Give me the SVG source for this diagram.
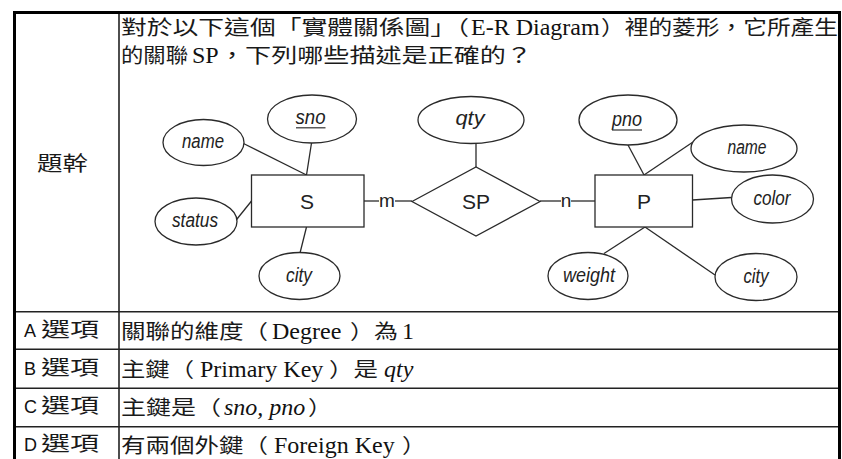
<svg xmlns="http://www.w3.org/2000/svg" width="842" height="459" viewBox="0 0 842 459">
<style>
.border{fill:none;stroke:#000;stroke-width:3}
.grid{fill:none;stroke:#222;stroke-width:1.6}
.cjk{font-family:"Noto Sans CJK TC","Noto Sans CJK SC",sans-serif;font-size:20px;fill:#1a1a1a}
.lat{font-family:"Liberation Serif","Times New Roman",serif;font-size:24px;fill:#111}
.it{font-style:italic}
.lbl{font-family:"Liberation Sans",Arial,sans-serif;font-size:18px;fill:#111}
.ent{fill:#fff;stroke:#2a2a2a;stroke-width:1.3}
.conn line{stroke:#2a2a2a;stroke-width:1.3}
.ul{stroke:#333;stroke-width:1.2}
.et{font-family:"Liberation Sans",Arial,sans-serif;font-size:21px;fill:#222;text-anchor:middle}
.at{font-family:"Liberation Sans",Arial,sans-serif;font-size:20px;font-style:italic;fill:#222;text-anchor:middle}
.card{font-family:"Liberation Sans",Arial,sans-serif;font-size:19px;fill:#222;text-anchor:middle}
</style>
<rect x="0" y="0" width="842" height="459" fill="#fff"/>

<g id="table">
<path class="grid" d="M119,12V459M14,311.7H840M14,349.3H840M14,388.3H840M14,426.7H840"/>
<path class="border" d="M14.5,459V12.5H839.5V459"/>
</g>

<g id="stem-label"><text class="cjk" x="37" y="170.5" textLength="51" lengthAdjust="spacingAndGlyphs" font-size="22">題幹</text></g>

<g id="stem">
<text class="cjk" x="121" y="35" textLength="348" lengthAdjust="spacingAndGlyphs">對於以下這個「實體關係圖」（</text>
<text class="lat" x="471" y="35">E-R Diagram</text>
<text class="cjk" x="601" y="35" textLength="237" lengthAdjust="spacingAndGlyphs">）裡的菱形，它所產生</text>
<text class="cjk" x="121" y="63" textLength="67" lengthAdjust="spacingAndGlyphs">的關聯</text>
<text class="lat" x="192" y="63">SP</text>
<text class="cjk" x="219" y="63" textLength="313" lengthAdjust="spacingAndGlyphs">，下列哪些描述是正確的？</text>
</g>

<g id="connectors" class="conn">
<line x1="243.5" y1="143.5" x2="306.5" y2="175"/>
<line x1="311.5" y1="143" x2="306.5" y2="175"/>
<line x1="235" y1="221.5" x2="251.5" y2="201"/>
<line x1="300" y1="253" x2="306.5" y2="227"/>
<line x1="364" y1="201" x2="379" y2="201"/>
<line x1="395" y1="201" x2="412" y2="201"/>
<line x1="476" y1="143.5" x2="476" y2="167"/>
<line x1="540" y1="201" x2="561" y2="201"/>
<line x1="571" y1="201" x2="595" y2="201"/>
<line x1="628" y1="145" x2="644" y2="175"/>
<line x1="693" y1="142" x2="644" y2="175"/>
<line x1="692.5" y1="200" x2="731.5" y2="197.5"/>
<line x1="645" y1="227" x2="604" y2="253.5"/>
<line x1="645" y1="227" x2="715" y2="275"/>
<text class="card" x="387" y="206.5">m</text>
<text class="card" x="566" y="206.5">n</text>
</g>

<g id="S"><rect class="ent" x="251.5" y="175" width="112.5" height="52"/><text class="et" x="307" y="208.5">S</text></g>
<g id="SP"><polygon class="ent" points="412,201.5 476,167 540,201.5 476,236"/><text class="et" x="476" y="208.5">SP</text></g>
<g id="P"><rect class="ent" x="595" y="175" width="97.5" height="52"/><text class="et" x="644" y="208.5">P</text></g>

<g id="S-name"><ellipse class="ent" cx="203.5" cy="142.5" rx="40.5" ry="23"/><text class="at" x="203" y="148" textLength="42" lengthAdjust="spacingAndGlyphs">name</text></g>
<g id="S-sno"><ellipse class="ent" cx="312" cy="119" rx="44.5" ry="24"/><text class="at" x="310.5" y="124" textLength="30" lengthAdjust="spacingAndGlyphs">sno</text><line class="ul" x1="296" y1="127.8" x2="325.5" y2="127.8"/></g>
<g id="S-status"><ellipse class="ent" cx="196" cy="221.5" rx="41" ry="23.5"/><text class="at" x="195" y="227" textLength="46" lengthAdjust="spacingAndGlyphs">status</text></g>
<g id="S-city"><ellipse class="ent" cx="299.5" cy="276" rx="40.5" ry="23.5"/><text class="at" x="299" y="281.5" textLength="26" lengthAdjust="spacingAndGlyphs">city</text></g>
<g id="SP-qty"><ellipse class="ent" cx="471" cy="120" rx="53" ry="23.5"/><text class="at" x="470" y="125" textLength="29" lengthAdjust="spacingAndGlyphs">qty</text></g>
<g id="P-pno"><ellipse class="ent" cx="628" cy="120" rx="49" ry="25"/><text class="at" x="627" y="125.5" textLength="30" lengthAdjust="spacingAndGlyphs">pno</text><line class="ul" x1="612" y1="130" x2="642" y2="130"/></g>
<g id="P-name"><ellipse class="ent" cx="744" cy="148.5" rx="53" ry="23.5"/><text class="at" x="747" y="154" textLength="39" lengthAdjust="spacingAndGlyphs">name</text></g>
<g id="P-color"><ellipse class="ent" cx="772.5" cy="199" rx="41" ry="24"/><text class="at" x="772" y="204.5" textLength="37" lengthAdjust="spacingAndGlyphs">color</text></g>
<g id="P-weight"><ellipse class="ent" cx="588" cy="276" rx="40" ry="23.5"/><text class="at" x="589" y="281.5" textLength="52" lengthAdjust="spacingAndGlyphs">weight</text></g>
<g id="P-city"><ellipse class="ent" cx="756" cy="277" rx="41" ry="23.5"/><text class="at" x="756" y="282.5" textLength="25" lengthAdjust="spacingAndGlyphs">city</text></g>

<g id="optA">
<text class="lbl" x="24" y="337">A</text><text class="cjk" x="41" y="337" textLength="58" lengthAdjust="spacingAndGlyphs">選項</text>
<text class="cjk" x="121" y="339" textLength="147" lengthAdjust="spacingAndGlyphs">關聯的維度（</text>
<text class="lat" x="272" y="339">Degree</text>
<text class="cjk" x="350" y="339" textLength="48" lengthAdjust="spacingAndGlyphs">）為</text>
<text class="lat" x="402" y="339">1</text>
</g>
<g id="optB">
<text class="lbl" x="24" y="375">B</text><text class="cjk" x="41" y="375" textLength="58" lengthAdjust="spacingAndGlyphs">選項</text>
<text class="cjk" x="121" y="376.5" textLength="73" lengthAdjust="spacingAndGlyphs">主鍵（</text>
<text class="lat" x="200" y="376.5">Primary Key</text>
<text class="cjk" x="329" y="376.5" textLength="49" lengthAdjust="spacingAndGlyphs">）是</text>
<text class="lat it" x="384" y="376.5">qty</text>
</g>
<g id="optC">
<text class="lbl" x="24" y="413">C</text><text class="cjk" x="41" y="413" textLength="58" lengthAdjust="spacingAndGlyphs">選項</text>
<text class="cjk" x="121" y="414.5" textLength="100" lengthAdjust="spacingAndGlyphs">主鍵是（</text>
<text class="lat it" x="224" y="414.5">sno, pno</text>
<text class="cjk" x="308" y="414.5" textLength="24" lengthAdjust="spacingAndGlyphs">）</text>
</g>
<g id="optD">
<text class="lbl" x="24" y="450.5">D</text><text class="cjk" x="41" y="450.5" textLength="58" lengthAdjust="spacingAndGlyphs">選項</text>
<text class="cjk" x="121" y="453" textLength="147" lengthAdjust="spacingAndGlyphs">有兩個外鍵（</text>
<text class="lat" x="274" y="453">Foreign Key</text>
<text class="cjk" x="402" y="453" textLength="24" lengthAdjust="spacingAndGlyphs">）</text>
</g>
</svg>
